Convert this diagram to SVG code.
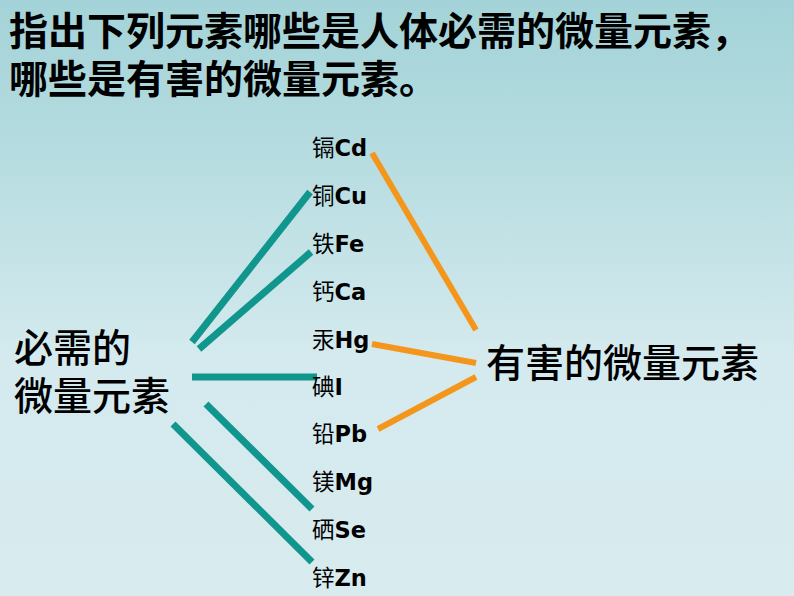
<svg xmlns="http://www.w3.org/2000/svg" width="794" height="596" viewBox="0 0 794 596">
<defs>
<linearGradient id="bg" x1="0" y1="0" x2="0" y2="1">
<stop offset="0" stop-color="#a3d3d8"/>
<stop offset="0.25" stop-color="#b5dce0"/>
<stop offset="0.6" stop-color="#d4eaee"/>
<stop offset="1" stop-color="#d8ebef"/>
</linearGradient>
<style>
.cjk{font-family:"Noto Sans CJK SC","Noto Sans",sans-serif;fill:#000}
.title{font-size:39px;font-weight:bold}
.big{font-size:39px;font-weight:500}
.el{font-size:22.5px}
.sym{font-family:"DejaVu Sans","Noto Sans CJK SC",sans-serif;font-weight:bold}
.teal{stroke:#11968e;stroke-width:7;fill:none}
.orange{stroke:#f5961c;stroke-width:6;fill:none}
</style>
</defs>
<rect width="794" height="596" fill="url(#bg)"/>
<g id="title">
<text class="cjk title" x="9" y="45">指出下列元素哪些是人体必需的微量元素，<tspan x="9" dy="48">哪些是有害的微量元素。</tspan></text>
</g>
<g id="connectors">
<line class="teal" x1="192" y1="342" x2="310" y2="192"/>
<line class="teal" x1="199" y1="349" x2="311" y2="252"/>
<line class="teal" x1="192" y1="377" x2="317" y2="377"/>
<line class="teal" x1="206" y1="404" x2="312" y2="509"/>
<line class="teal" x1="173" y1="424" x2="312" y2="562"/>
<line class="orange" x1="372" y1="153" x2="476" y2="330"/>
<line class="orange" x1="372" y1="344" x2="476" y2="363"/>
<line class="orange" x1="378" y1="429" x2="476" y2="377"/>
</g>
<g id="essential">
<text class="cjk big" x="14" y="362">必需的<tspan x="14" dy="48">微量元素</tspan></text>
</g>
<g id="harmful">
<text class="cjk big" x="486" y="377">有害的微量元素</text>
</g>
<g id="el-cd"><text class="cjk el" x="312" y="156">镉<tspan class="sym">Cd</tspan></text></g>
<g id="el-cu"><text class="cjk el" x="312" y="204">铜<tspan class="sym">Cu</tspan></text></g>
<g id="el-fe"><text class="cjk el" x="312" y="252">铁<tspan class="sym">Fe</tspan></text></g>
<g id="el-ca"><text class="cjk el" x="312" y="300">钙<tspan class="sym">Ca</tspan></text></g>
<g id="el-hg"><text class="cjk el" x="312" y="348">汞<tspan class="sym">Hg</tspan></text></g>
<g id="el-i"><text class="cjk el" x="312" y="395">碘<tspan class="sym">I</tspan></text></g>
<g id="el-pb"><text class="cjk el" x="312" y="442">铅<tspan class="sym">Pb</tspan></text></g>
<g id="el-mg"><text class="cjk el" x="312" y="490">镁<tspan class="sym">Mg</tspan></text></g>
<g id="el-se"><text class="cjk el" x="312" y="538">硒<tspan class="sym">Se</tspan></text></g>
<g id="el-zn"><text class="cjk el" x="312" y="586">锌<tspan class="sym">Zn</tspan></text></g>
</svg>
